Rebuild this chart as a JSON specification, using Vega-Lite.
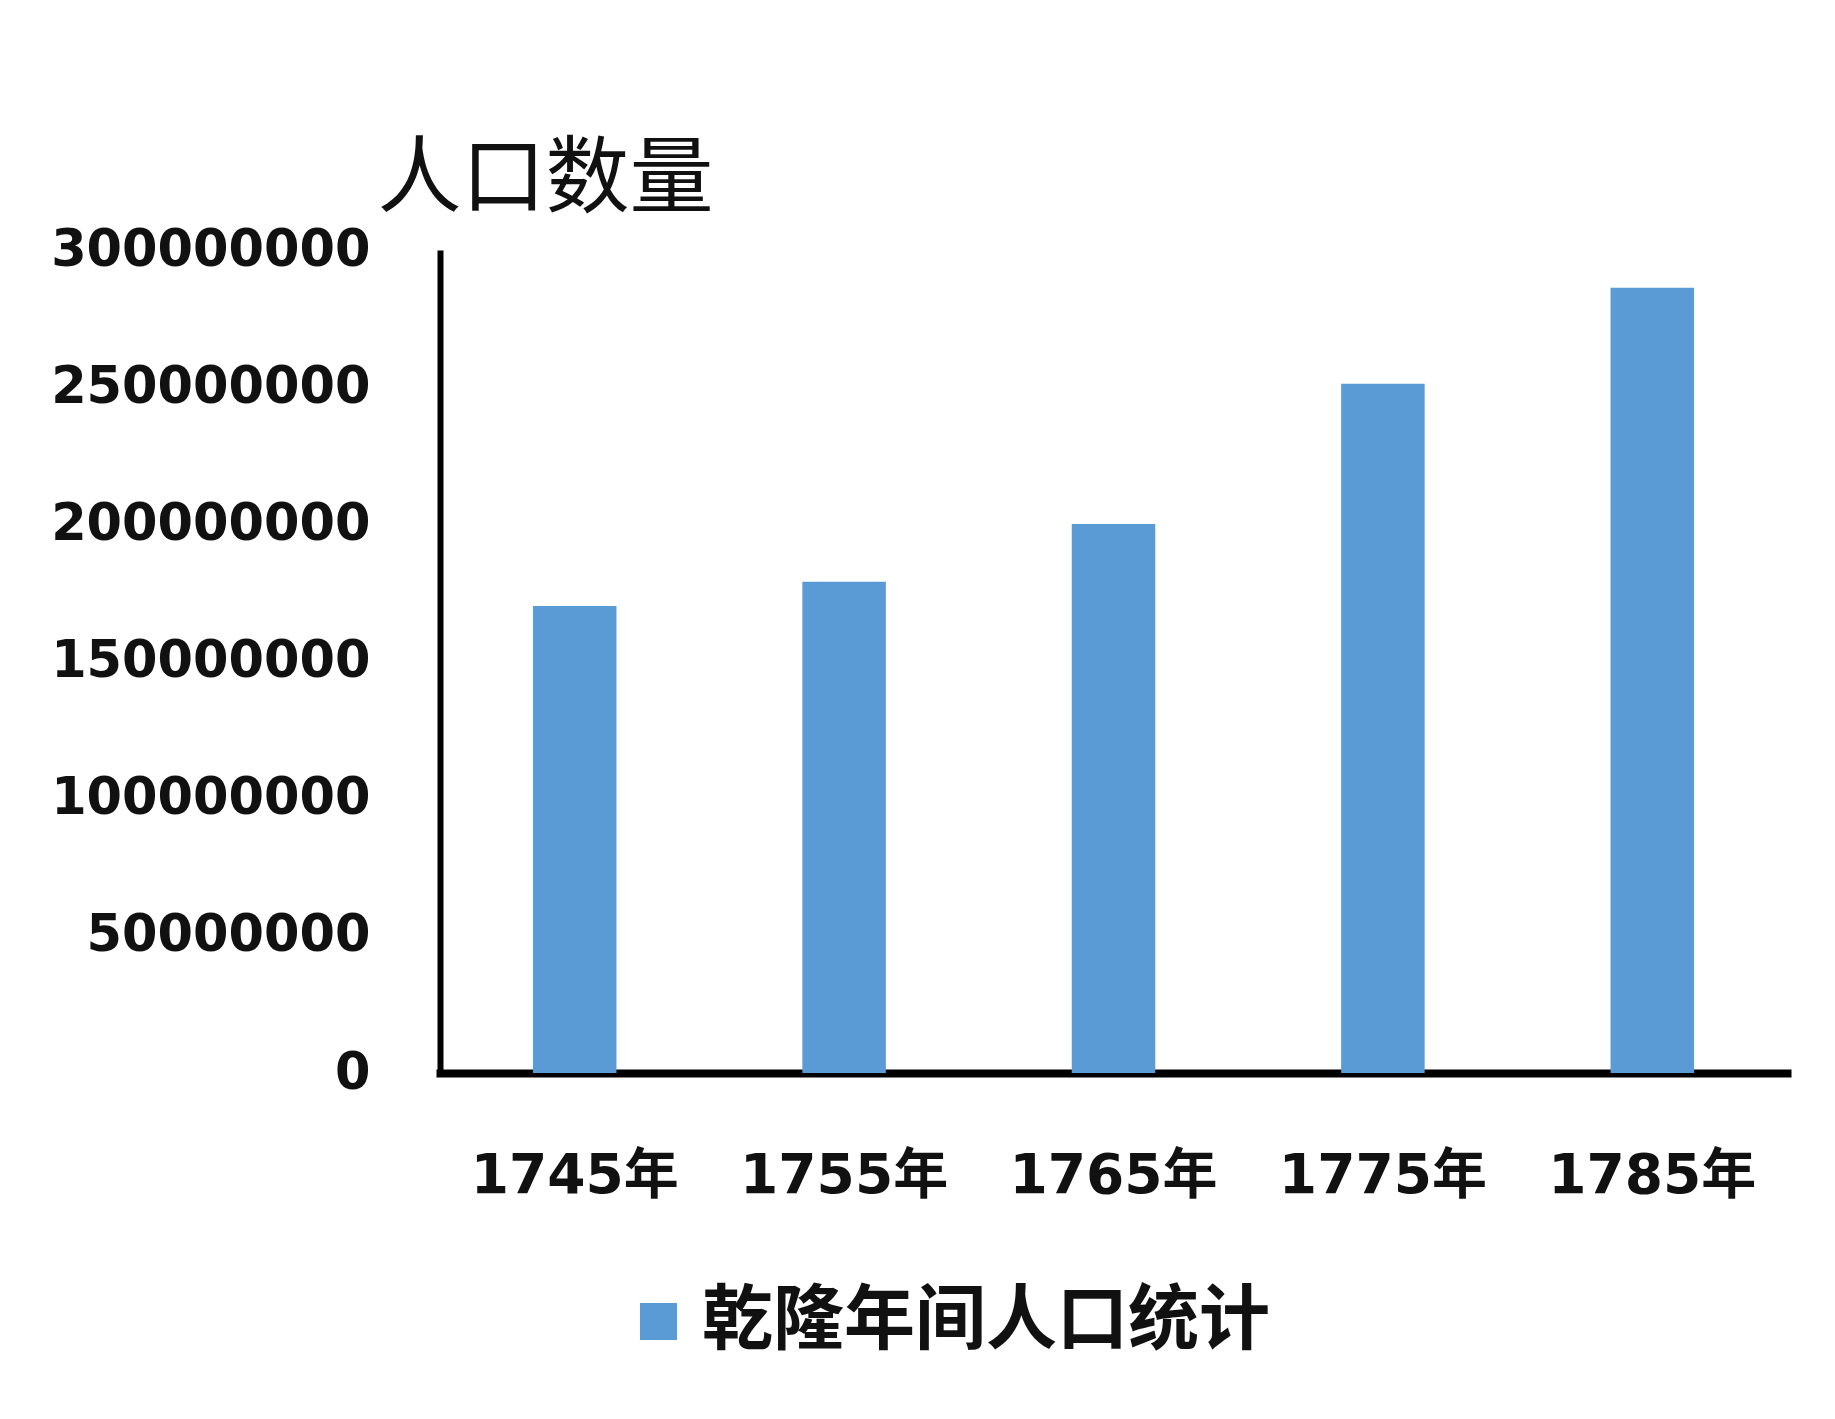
{
  "$schema": "https://vega.github.io/schema/vega-lite/v6.json",
  "width": 1347,
  "height": 823,
  "autosize": {"type": "none"},
  "padding": {"left": 440, "top": 250, "right": 48, "bottom": 346},
  "background": "white",
  "data": {
    "values": [
      {"年份": "1745年", "人口": 170200000, "系列": "乾隆年间人口统计"},
      {"年份": "1755年", "人口": 179100000, "系列": "乾隆年间人口统计"},
      {"年份": "1765年", "人口": 200100000, "系列": "乾隆年间人口统计"},
      {"年份": "1775年", "人口": 251200000, "系列": "乾隆年间人口统计"},
      {"年份": "1785年", "人口": 286200000, "系列": "乾隆年间人口统计"}
    ]
  },
  "config": {
    "view": {"stroke": null},
    "font": "DejaVu Sans"
  },
  "mark": {"type": "bar", "color": "#5B9BD5"},
  "encoding": {
    "x": {
      "field": "年份",
      "type": "nominal",
      "sort": null,
      "scale": {"paddingInner": 0.69, "paddingOuter": 0.345},
      "axis": {
        "title": null,
        "labelAngle": 0,
        "labelFont": "DejaVu Sans, Noto Sans CJK SC",
        "labelFontSize": 55,
        "labelFontWeight": "bold",
        "labelColor": "#111",
        "labelPadding": 76,
        "labelBaseline": "top",
        "labelLimit": 0,
        "ticks": false,
        "tickSize": 0,
        "domainColor": "#000",
        "domainWidth": 8,
        "domainCap": "square",
        "grid": false
      }
    },
    "y": {
      "field": "人口",
      "type": "quantitative",
      "scale": {"domain": [0, 300000000], "nice": false},
      "axis": {
        "values": [0, 50000000, 100000000, 150000000, 200000000, 250000000, 300000000],
        "format": "d",
        "labelFont": "DejaVu Sans",
        "labelFontSize": 51,
        "labelFontWeight": "bold",
        "labelColor": "#111",
        "labelPadding": 70,
        "labelLimit": 0,
        "ticks": false,
        "tickSize": 0,
        "grid": false,
        "domainColor": "#000",
        "domainWidth": 6,
        "title": "人口数量",
        "titleAngle": 0,
        "titleAlign": "left",
        "titleBaseline": "alphabetic",
        "titleX": -63,
        "titleY": -45,
        "titleFont": "Noto Sans CJK SC",
        "titleFontWeight": "normal",
        "titleFontSize": 84,
        "titleColor": "#111"
      }
    },
    "color": {
      "field": "系列",
      "type": "nominal",
      "scale": {"range": ["#5B9BD5"]},
      "legend": {
        "title": null,
        "orient": "none",
        "legendX": 183,
        "legendY": 1036,
        "padding": 0,
        "symbolType": "square",
        "symbolSize": 1369,
        "symbolStrokeWidth": 0,
        "labelFont": "Noto Sans CJK SC",
        "labelFontWeight": "bold",
        "labelFontSize": 71,
        "labelColor": "#111",
        "labelOffset": 8,
        "labelLimit": 0
      }
    }
  }
}
